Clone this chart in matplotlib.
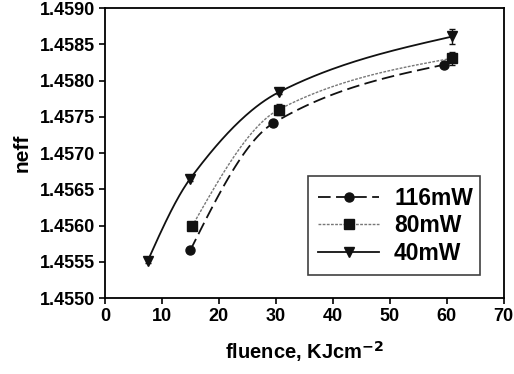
import numpy as np
import matplotlib.pyplot as plt

plt.rcParams['font.family'] = ['Liberation Sans', 'DejaVu Sans']
plt.rcParams['font.weight'] = 'bold'

# fluence (KJ/cm^2) and effective index for each write power
x_116 = [15.0, 29.5, 59.5]
y_116 = [1.45566, 1.45741, 1.45822]
e_116 = [0.00002, 0.00003, 0.00003]

x_80 = [15.3, 30.5, 61.0]
y_80 = [1.45599, 1.45760, 1.45831]
e_80 = [0.00002, 0.00008, 0.00009]

x_40 = [7.5, 15.0, 30.5, 61.0]
y_40 = [1.45551, 1.45665, 1.45784, 1.45861]
e_40 = [0.00002, 0.00003, 0.00002, 0.00011]

labels = ["116mW", "80mW", "40mW"]


def smooth(xs, ys, n=60):
    # monotone cubic line through the points, natural-style end slopes
    x = np.asarray(xs, float)
    y = np.asarray(ys, float)
    h = np.diff(x)
    d = np.diff(y) / h
    m = np.zeros_like(y)
    for i in range(1, len(x) - 1):
        if d[i - 1] * d[i] > 0:
            w1 = 2 * h[i] + h[i - 1]
            w2 = h[i] + 2 * h[i - 1]
            m[i] = (w1 + w2) / (w1 / d[i - 1] + w2 / d[i])
    m[0] = (3 * d[0] - m[1]) / 2
    m[-1] = (3 * d[-1] - m[-2]) / 2
    sx, sy = [], []
    for i in range(len(x) - 1):
        t = np.linspace(0, 1, n)
        h00 = 2 * t ** 3 - 3 * t ** 2 + 1
        h10 = t ** 3 - 2 * t ** 2 + t
        h01 = -2 * t ** 3 + 3 * t ** 2
        h11 = t ** 3 - t ** 2
        sx.append(x[i] + t * h[i])
        sy.append(h00 * y[i] + h10 * h[i] * m[i] + h01 * y[i + 1] + h11 * h[i] * m[i + 1])
    return np.concatenate(sx), np.concatenate(sy)


fig = plt.figure(figsize=(5.14, 3.74), dpi=100)
ax = fig.add_axes([0.204, 0.203, 0.776, 0.775])

series = [
    (x_116, y_116, e_116, 'o', (0, (7, 3)), '#111111', 1.3),
    (x_80, y_80, e_80, 's', (0, (2, 1)), '#777777', 1.0),
    (x_40, y_40, e_40, 'v', '-', '#111111', 1.3),
]

handles = []
for (xs, ys, es, mk, ls, col, lw), lab in zip(series, labels):
    sx, sy = smooth(xs, ys)
    ax.plot(sx, sy, color=col, linestyle=ls, linewidth=lw)
    ax.errorbar(xs, ys, yerr=es, fmt='none', ecolor='#111111', elinewidth=1, capsize=2.5)
    ax.plot(xs, ys, linestyle='none', marker=mk, color='#111111', markersize=6.5)
    h, = ax.plot([], [], color=col, linestyle=ls, linewidth=lw, marker=mk,
                 markerfacecolor='#111111', markeredgecolor='#111111', markersize=6.5)
    handles.append(h)

ax.set_xlim(0, 70)
ax.set_ylim(1.4550, 1.4590)
ax.set_xticks(range(0, 71, 10))
ax.set_yticks(np.arange(1.4550, 1.45901, 0.0005))
ax.set_yticklabels(["%.4f" % v for v in np.arange(1.4550, 1.45901, 0.0005)])
ax.tick_params(direction='out', length=4, width=1.2, labelsize=13, top=False, right=False, pad=3)
for s in ax.spines.values():
    s.set_linewidth(1.3)

ax.set_xlabel("fluence, KJcm$^{\\mathbf{-2}}$", fontsize=14.5, fontweight='bold', labelpad=10)
ax.set_ylabel("neff", fontsize=15, fontweight='bold', labelpad=6)

leg = ax.legend(handles, labels, loc='lower left', bbox_to_anchor=(0.509, 0.079, 0.431, 0.338),
                mode='expand', borderaxespad=0, fontsize=16.5, frameon=True, fancybox=False,
                handlelength=2.66, borderpad=0.45, labelspacing=0.2, handletextpad=0.65)
leg.get_frame().set_edgecolor('#111111')
leg.get_frame().set_linewidth(1.2)

fig.savefig("out.png", dpi=100)
